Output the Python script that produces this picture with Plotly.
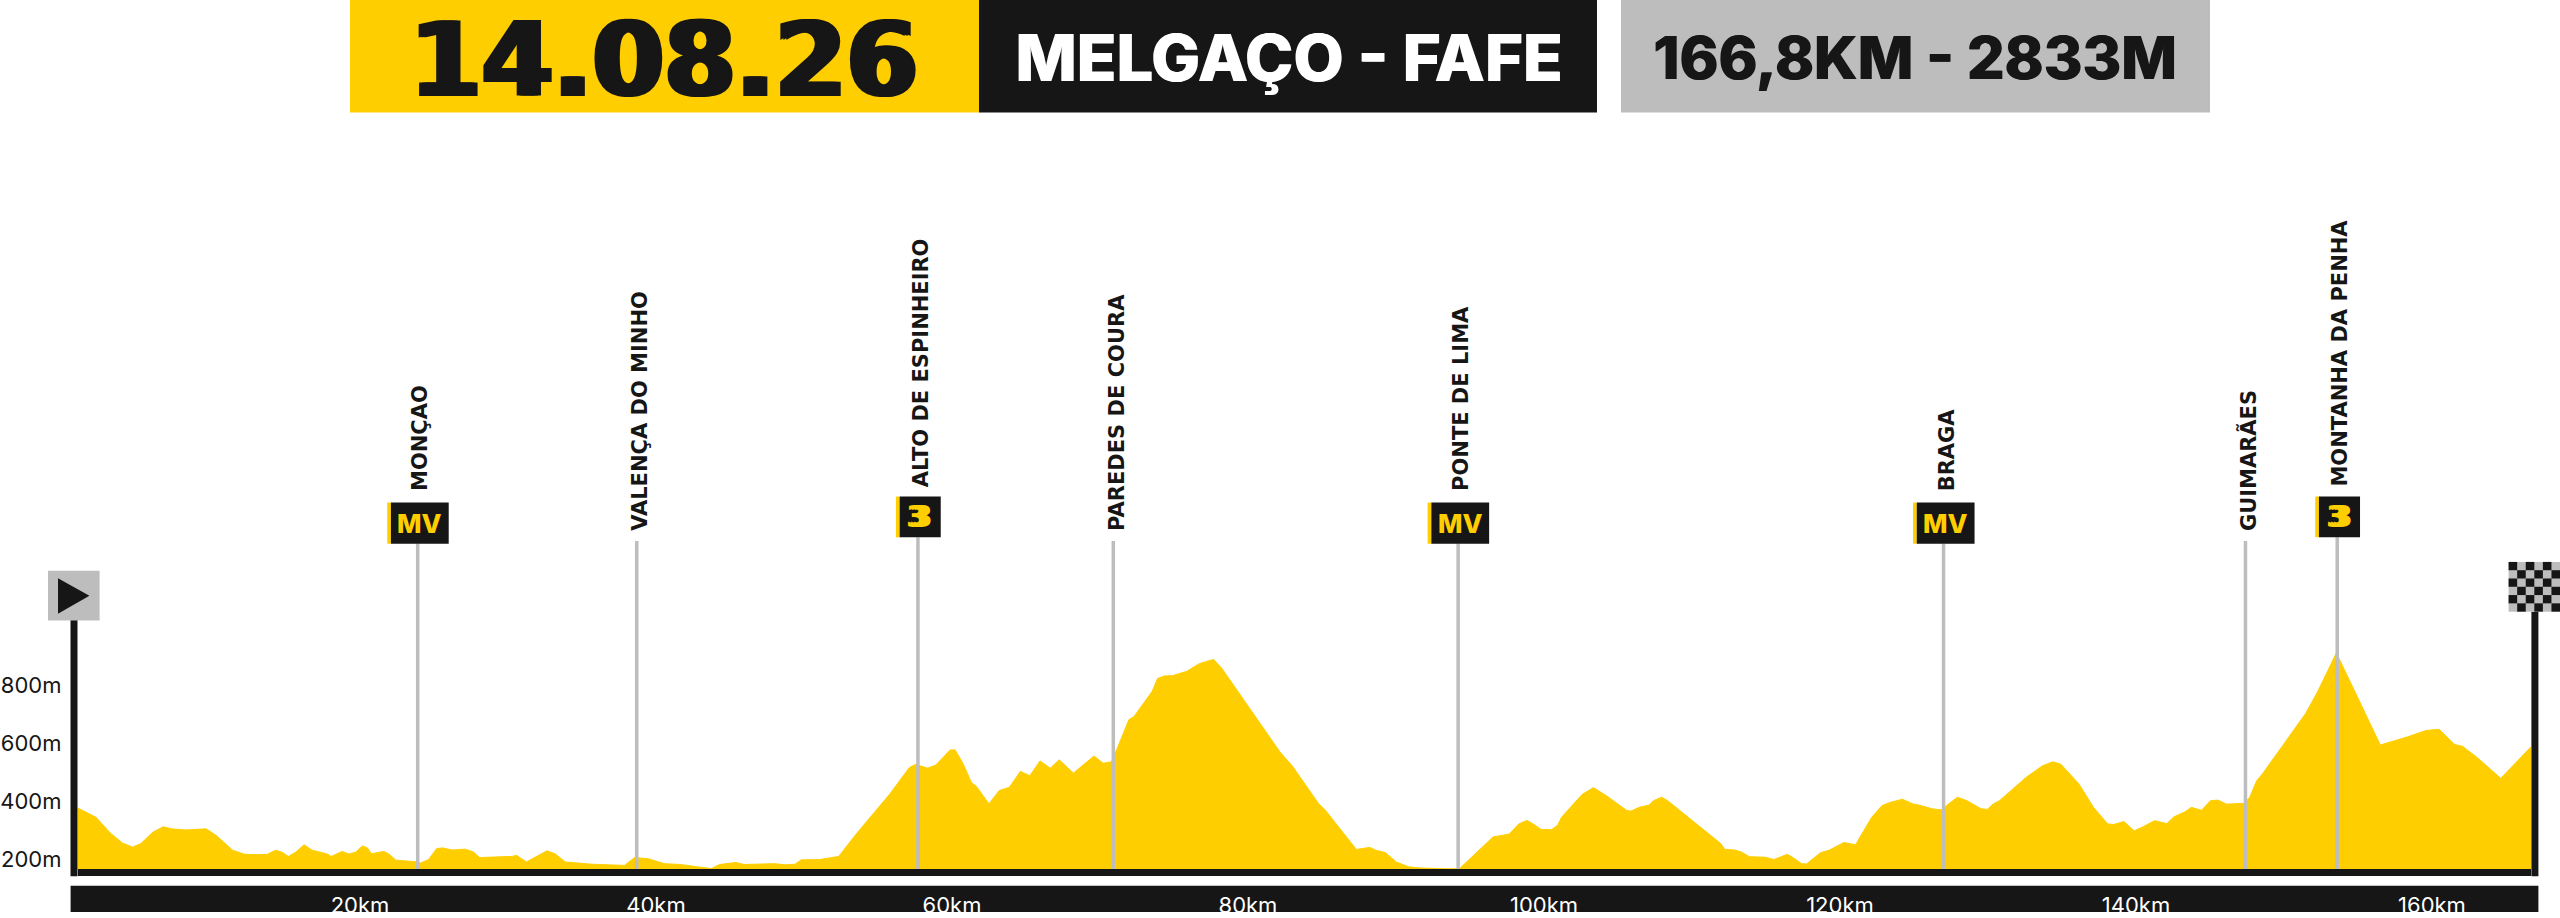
import plotly.graph_objects as go

# stage profile, km / metres
km = [0.92, 2.16, 3.12, 3.95, 4.64, 5.19, 6.02, 6.71, 7.26, 8.22, 9.60, 10.29, 11.40, 12.22, 13.05, 13.74, 14.29, 14.7,
      15.17, 15.67, 16.22, 16.77, 17.74, 18.07, 18.79, 19.26, 19.72, 20.17, 20.5, 20.77, 21.6, 21.93, 22.43, 23.25,
      23.89, 24.08, 24.63, 25.18, 25.6, 26.23, 27.11, 27.67, 28.08, 30.29, 30.56, 31.25, 32.63, 33.18, 33.87, 35.67,
      37.87, 38.56, 39.47, 40.57, 41.68, 42.78, 43.75, 44.3, 45.4, 45.95, 48.02, 48.71, 49.4, 49.81, 51.05, 52.35,
      53.54, 55.8, 57.12, 57.54, 58.36, 58.91, 59.88, 60.21, 60.71, 61.31, 61.67, 62.5, 63.19, 63.88, 64.62, 65.26,
      65.95, 66.64, 67.24, 68.21, 69.59, 70.22, 70.77, 71.19, 71.96, 72.29, 73.53, 73.89, 74.36, 74.91, 75.87, 76.7,
      77.67, 78.22, 80.29, 80.7, 82.16, 82.99, 84.78, 85.2, 87.32, 88.23, 88.64, 89.28, 90.02, 90.85, 91.68, 93.61,
      94.19, 94.3, 96.56, 97.66, 98.3, 98.85, 99.26, 99.81, 100.5, 100.92, 101.19, 102.57, 103.34, 104.22, 105.6,
      105.88, 106.43, 107.12, 107.4, 107.95, 108.36, 111.95, 112.22, 112.91, 113.33, 113.88, 114.98, 115.53, 116.44,
      116.77, 117.41, 117.74, 118.7, 119.26, 120.27, 121.05, 122.15, 122.84, 123.39, 124.22, 124.91, 125.41, 126.23,
      126.92, 127.2, 127.94, 128.58, 129.54, 129.96, 130.37, 130.78, 132.57, 133.68, 134.37, 134.92, 136.16, 137.13,
      138.09, 138.5, 139.19, 139.47, 139.88, 140.44, 141.26, 142.09, 142.56, 143.33, 143.74, 144.43, 145.04, 145.54,
      146.14, 147.33, 147.69, 148.16, 148.57, 151.47, 152.29, 153.54, 153.76, 156.51, 158.36, 159.6, 160.48, 161.53,
      162.08, 163.05, 164.65, 166.72]
elev = [377, 345, 291, 256, 242, 254, 294, 312, 305, 301, 305, 282, 231, 217, 216, 217, 231, 225,
        210, 225, 250, 231, 219, 210, 227, 218, 225, 246, 239, 219, 227, 219, 197, 193,
        191, 187, 199, 237, 239, 232, 235, 225, 206, 210, 214, 191, 229, 219, 191, 183,
        179, 206, 202, 185, 182, 174, 168, 182, 189, 182, 185, 181, 183, 198, 199, 210,
        288, 425, 516, 527, 514, 525, 577, 577, 534, 465, 450, 391, 437, 448, 503, 488,
        539, 514, 543, 497, 556, 531, 536, 585, 682, 691, 779, 823, 832, 833, 848, 874,
        889, 859, 705, 679, 570, 522, 391, 371, 234, 241, 231, 223, 191, 174, 170, 167,
        170, 168, 277, 287, 322, 334, 322, 303, 302, 317, 345, 423, 447, 419, 368,
        366, 379, 387, 402, 414, 402, 254, 234, 232, 225, 209, 207, 199, 217,
        208, 185, 184, 223, 231, 258, 250, 345, 385, 396, 407, 391, 386, 374,
        370, 385, 414, 402, 374, 372, 391, 402, 482, 522, 536, 528, 459, 379,
        322, 320, 330, 317, 298, 311, 333, 323, 346, 364, 379, 369, 402, 404,
        390, 393, 414, 471, 496, 703, 779, 911, 888, 594, 622, 644, 648, 596,
        589, 551, 479, 589]

place_names = ["MONÇAO", "VALENÇA DO MINHO", "ALTO DE ESPINHEIRO", "PAREDES DE COURA",
               "PONTE DE LIMA", "BRAGA", "GUIMARÃES", "MONTANHA DA PENHA"]
place_km = [23.9, 38.7, 57.7, 70.9, 94.2, 127.0, 147.4, 153.6]
place_badge = ["MV", None, "3", None, "MV", "MV", None, "3"]
pole_top = [1288, 1297, 1310, 1297, 1288, 1288, 1297, 1310]

km_ticks = [20, 40, 60, 80, 100, 120, 140, 160]
km_labels = ["20km", "40km", "60km", "80km", "100km", "120km", "140km", "160km"]
elev_ticks = [200, 400, 600, 800]
elev_labels = ["200m", "400m", "600m", "800m"]

date_text = "14.08.26"
route_text = "MELGAÇO - FAFE"
stats_text = "166,8KM - 2833M"

YELLOW = "#FFCE00"
BLACK = "#161616"
GREY = "#BDBDBD"
W, H = 2560, 918


def fx(x):
    return x / W


def fy(y):
    return 1 - y / H


def box(x0, y0, x1, y1, color):
    return dict(type="rect", xref="paper", yref="paper", x0=fx(x0), x1=fx(x1), y0=fy(y0), y1=fy(y1),
                fillcolor=color, line_width=0, layer="above")


def label(x, y, text, color, size, family="Inter", weight=800, shadow=None):
    return dict(xref="paper", yref="paper", x=fx(x), y=fy(y), text=text, showarrow=False,
                xanchor="center", yanchor="middle",
                font=dict(family=family, size=size, color=color, weight=weight, shadow=shadow))


fig = go.Figure()
fig.add_trace(go.Scatter(x=km, y=elev, mode="lines", fill="tozeroy", fillcolor=YELLOW,
                         line=dict(color=YELLOW, width=1), hoverinfo="skip"))
for x, top in zip(place_km, pole_top):
    fig.add_trace(go.Scatter(x=[x, x], y=[165.7, top], mode="lines",
                             line=dict(color=GREY, width=3.5), hoverinfo="skip"))

shapes = [
    # bar behind the km labels
    dict(type="rect", xref="paper", yref="paper", x0=fx(70.6), x1=fx(2538.4), y0=fy(890.7), y1=fy(917),
         fillcolor=BLACK, line_width=0, layer="below"),
    # header
    box(350, 0, 979, 113, YELLOW),
    box(979, 0, 1597, 113, BLACK),
    box(1621, 0, 2210, 113, GREY),
    # axis uprights
    box(70.5, 615, 77.5, 881, BLACK),
    box(2531.4, 615, 2538.4, 881, BLACK),
    # start icon
    box(48, 574, 99.6, 624, GREY),
    dict(type="path", xref="paper", yref="paper", fillcolor=BLACK, line_width=0, layer="above",
         path=f"M {fx(58)} {fy(581.3)} L {fx(89.4)} {fy(599)} L {fx(58)} {fy(617)} Z"),
    # finish flag
    box(2508.6, 565, 2560, 615, GREY),
]
for r in range(6):
    for c in range(6):
        if (r + c) % 2 == 0:
            shapes.append(box(2508.6 + c * 8.57, 565 + r * 8.33, 2508.6 + (c + 1) * 8.57, 565 + (r + 1) * 8.33, BLACK))

annotations = [
    label(664, 60, date_text, BLACK, 103, "DejaVu Sans", 700, f"3px 0 0 {BLACK}, -3px 0 0 {BLACK}"),
    label(1288, 58, route_text, "white", 65, shadow="1px 0 0 white"),
    label(1914, 58, stats_text, BLACK, 59, shadow=f"1px 0 0 {BLACK}"),
]

for name, x, badge in zip(place_names, place_km, place_badge):
    if badge == "MV":
        left, right, top, bottom, text_bottom = -30.5, 31, 505.3, 546.7, 495
    elif badge == "3":
        left, right, top, bottom, text_bottom = -22, 22.8, 499.3, 540.3, 490.5
    else:
        text_bottom = 535
    if badge:
        for a, b, col in [(left, left + 3.7, YELLOW), (left + 3.7, right, BLACK)]:
            shapes.append(dict(type="rect", xref="x", yref="paper", xsizemode="pixel", xanchor=x, x0=a, x1=b,
                               y0=fy(bottom), y1=fy(top), fillcolor=col, line_width=0, layer="above"))
        annotations.append(dict(xref="x", yref="paper", x=x, y=fy((top + bottom) / 2), xshift=2, text=badge,
                                showarrow=False, xanchor="center", yanchor="middle",
                                font=dict(family="Inter" if badge == "MV" else "DejaVu Sans",
                                          size=26 if badge == "MV" else 30, color=YELLOW, weight=800,
                                          shadow=None if badge == "MV" else f"3px 0 0 {YELLOW}, -3px 0 0 {YELLOW}")))
    annotations.append(dict(xref="x", yref="paper", x=x, y=fy(text_bottom), xshift=3, text=name, textangle=-90,
                            showarrow=False, xanchor="center", yanchor="bottom", borderpad=0,
                            font=dict(family="DejaVu Sans", size=21, color=BLACK, weight=700)))

fig.update_layout(
    width=W, height=H, autosize=False, showlegend=False,
    margin=dict(l=0, r=0, t=0, b=0), paper_bgcolor="white", plot_bgcolor="white",
    shapes=shapes, annotations=annotations,
)
fig.update_xaxes(domain=[fx(77.5), fx(2531.4)], range=[0.912, 166.72], tickvals=km_ticks, ticktext=km_labels,
                 showgrid=False, zeroline=False, showline=True, linewidth=7, linecolor=BLACK,
                 ticks="", ticklabelstandoff=10, tickfont=dict(family="Inter", size=22, color="white"))
# axis runs well above the profile so the poles have room, uprights are drawn as shapes
fig.update_yaxes(domain=[fy(874), fy(490)], range=[165.7, 1482], tickvals=elev_ticks, ticktext=elev_labels,
                 showgrid=False, zeroline=False, showline=False,
                 ticks="", ticklabelstandoff=15, tickfont=dict(family="Inter", size=22, color=BLACK))

fig.write_html("out.html", config={"displayModeBar": False},
               post_script="document.body.style.margin='0';document.body.style.overflow='hidden';")
